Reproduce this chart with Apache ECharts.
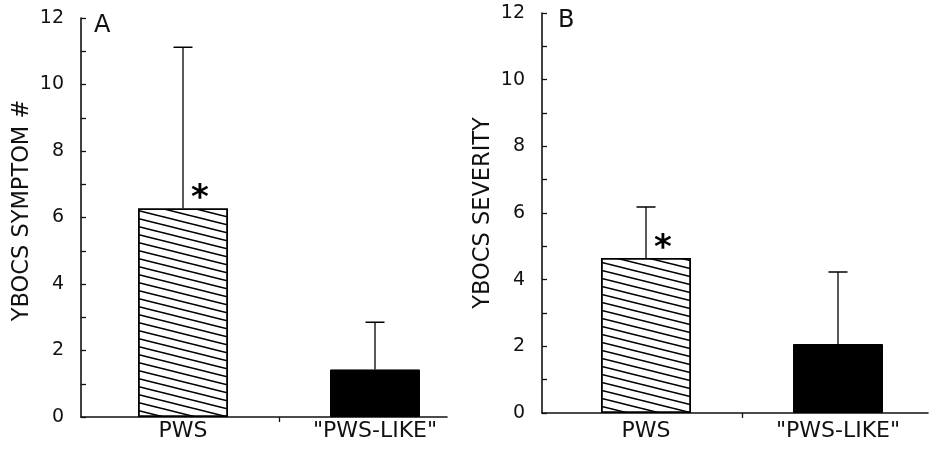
<!DOCTYPE html>
<html>
<head>
<meta charset="utf-8">
<script src="https://cdn.jsdelivr.net/npm/echarts@6/dist/echarts.min.js"></script>
<style>
html,body{margin:0;padding:0;background:#fff;}
#chart{width:930px;height:449px;}
</style>
</head>
<body>
<div id="chart"></div>
<script>
// ---- data ----
const categories = ['PWS', '"PWS-LIKE"'];
const categoryPos = [1, 2];
const symptomMean = [6.28, 1.43];
const symptomSD = [4.84, 1.42];
const severityMean = [4.65, 2.07];
const severitySD = [1.53, 2.16];
const significant = [true, false];
const panelLetters = ['A', 'B'];
const yTitles = ['YBOCS SYMPTOM #', 'YBOCS SEVERITY'];
const yMin = 0, yMax = 12, yStep = 2;
const dividerTicks = [1.5];

// ---- styles ----
const FONT = 'DejaVu Sans';
const INK = '#111';

function makeHatch() {
  const c = document.createElement('canvas');
  c.width = 32; c.height = 8;
  const g = c.getContext('2d');
  g.fillStyle = '#fff';
  g.fillRect(0, 0, 32, 8);
  g.strokeStyle = '#000';
  g.lineWidth = 1.6;
  for (let k = -2; k <= 2; k++) {
    g.beginPath();
    g.moveTo(-32, -8 + k * 8);
    g.lineTo(64, 16 + k * 8);
    g.stroke();
  }
  return c;
}
const hatch = { image: makeHatch(), repeat: 'repeat' };

const chart = echarts.init(document.getElementById('chart'), null, { renderer: 'canvas' });

const grids = [
  { left: 81, top: 18, width: 366, height: 399 },
  { left: 542, top: 13, width: 386, height: 400 }
];
const xRanges = [[0.46875, 2.375], [0.4583, 2.46875]];
const labelMargins = [3, 7];
const means = [symptomMean, severityMean];
const sds = [symptomSD, severitySD];

function xAxisFor(i) {
  return {
    type: 'value', gridIndex: i, min: xRanges[i][0], max: xRanges[i][1],
    splitLine: { show: false },
    axisLine: { show: true, onZero: false, lineStyle: { color: INK, width: 1.6 } },
    axisTick: { show: true, customValues: dividerTicks, inside: false, length: 5, lineStyle: { color: INK, width: 1.3 } },
    axisLabel: {
      show: true, customValues: categoryPos, margin: labelMargins[i],
      color: INK, fontFamily: FONT, fontSize: 22,
      formatter: v => categories[categoryPos.indexOf(v)]
    }
  };
}
function yAxisFor(i) {
  return {
    type: 'value', gridIndex: i, min: yMin, max: yMax, interval: yStep,
    splitLine: { show: false },
    axisLine: { show: true, lineStyle: { color: INK, width: 1.6 } },
    axisTick: { show: true, inside: true, length: 5, lineStyle: { color: INK, width: 1.3 } },
    minorTick: { show: true, splitNumber: 2, length: 5, lineStyle: { color: INK, width: 1.3 } },
    axisLabel: { color: INK, fontFamily: FONT, fontSize: 19, margin: 17 },
    name: yTitles[i], nameLocation: 'middle', nameRotate: 90, nameGap: 47,
    nameTextStyle: { color: INK, fontFamily: FONT, fontSize: 22.5, padding: i === 0 ? [0, 0, 0, 14] : 0 }
  };
}

const series = [];
for (let i = 0; i < 2; i++) {
  series.push({
    type: 'bar', xAxisIndex: i, yAxisIndex: i, barWidth: 90, z: 2,
    data: categoryPos.map((x, k) => ({
      value: [x, means[i][k]],
      itemStyle: k === 0
        ? { color: hatch, borderColor: '#000', borderWidth: 1.8 }
        : { color: '#000', borderColor: '#000', borderWidth: 1 }
    }))
  });
  series.push({
    type: 'custom', xAxisIndex: i, yAxisIndex: i, z: 3,
    data: categoryPos.map((x, k) => [x, means[i][k], sds[i][k]]),
    renderItem: function (params, api) {
      const x = api.value(0), m = api.value(1), sd = api.value(2);
      const base = api.coord([x, m]);
      const top = api.coord([x, m + sd]);
      const hw = 9.5;
      return {
        type: 'group',
        children: [
          { type: 'line', shape: { x1: base[0], y1: base[1], x2: top[0], y2: top[1] }, style: { stroke: '#000', lineWidth: 1.3 } },
          { type: 'line', shape: { x1: top[0] - hw, y1: top[1], x2: top[0] + hw, y2: top[1] }, style: { stroke: '#000', lineWidth: 1.5 } }
        ]
      };
    }
  });
  series.push({
    type: 'custom', xAxisIndex: i, yAxisIndex: i, z: 4,
    data: categoryPos.map((x, k) => [x, means[i][k]]).filter((d, k) => significant[k]),
    renderItem: function (params, api) {
      const p = api.coord([api.value(0), api.value(1)]);
      return {
        type: 'text',
        style: {
          text: '*', x: p[0] + 17, y: p[1] - 9,
          fill: '#000', font: 'bold 34px "DejaVu Sans"',
          textAlign: 'center', textVerticalAlign: 'middle'
        }
      };
    }
  });
}

chart.setOption({
  animation: false,
  backgroundColor: '#fff',
  title: [
    { text: panelLetters[0], left: 94, top: 14, textStyle: { color: INK, fontFamily: FONT, fontSize: 24, fontWeight: 'normal' }, padding: 0 },
    { text: panelLetters[1], left: 558, top: 9, textStyle: { color: INK, fontFamily: FONT, fontSize: 24, fontWeight: 'normal' }, padding: 0 }
  ],
  grid: grids,
  xAxis: [xAxisFor(0), xAxisFor(1)],
  yAxis: [yAxisFor(0), yAxisFor(1)],
  series: series
});
</script>
</body>
</html>
